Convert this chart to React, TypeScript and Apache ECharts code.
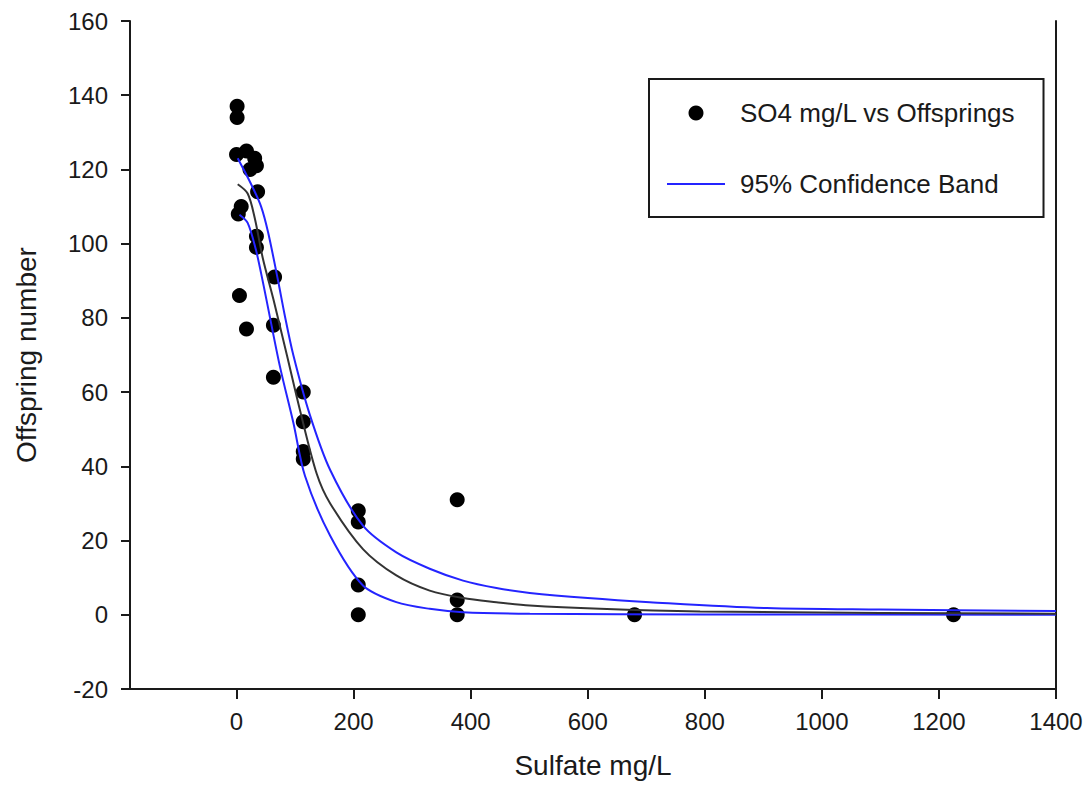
import React, { useEffect, useRef } from "react";
import * as echarts from "echarts";

const FONT = '"Liberation Sans", Arial, sans-serif';

// Observed data: sulfate concentration (mg/L) vs offspring number
const obsConc = [0, 1, 1, 3, 5, 8, 17, 17, 23, 31, 34, 36, 34, 34, 65, 63, 63, 114, 114, 114, 114, 208, 208, 208, 208, 377, 377, 377, 680, 1225];
const obsOffspring = [124, 137, 134, 108, 86, 110, 125, 77, 120, 123, 121, 114, 102, 99, 91, 78, 64, 60, 52, 44, 42, 28, 25, 8, 0, 31, 4, 0, 0, 0];

// Fitted regression curve
const fitConc = [2, 19, 31, 45, 63, 86, 108, 137, 160, 216, 273, 330, 387, 444, 501, 621, 792, 1100, 1400];
const fitOffspring = [116, 113.5, 107, 96, 85, 70, 55.4, 38, 30, 17.7, 10.6, 6.5, 4.5, 3.4, 2.5, 1.6, 0.9, 0.5, 0.3];

// Upper 95% confidence band
const upperConc = [2, 25, 42, 54, 71, 82, 97, 125, 160, 216, 273, 330, 387, 444, 501, 600, 706, 906, 1100, 1400];
const upperOffspring = [123, 116, 110, 103, 90, 81, 70, 54, 39, 24, 16.8, 12.4, 9.2, 7.2, 5.9, 4.5, 3.4, 1.8, 1.4, 1.0];

// Lower 95% confidence band
const lowerConc = [5, 19, 33, 42, 51, 74, 97, 117, 160, 216, 273, 330, 387, 501, 800, 1400];
const lowerOffspring = [107.8, 105.6, 98.4, 92, 85, 67, 51.8, 37.4, 21.3, 7.9, 3.4, 1.6, 0.7, 0.3, 0.1, 0];

const xTicks = [0, 200, 400, 600, 800, 1000, 1200, 1400];

const zip = (xs: number[], ys: number[]) => xs.map((x, i) => [x, ys[i]]);

export default function App() {
  const ref = useRef<HTMLDivElement>(null);
  useEffect(() => {
    const chart = echarts.init(ref.current!, null, { renderer: "svg" });
    const axisColor = "#1a1a1a";
    const blue = "#2424ff";
    chart.setOption({
      animation: false,
      backgroundColor: "#ffffff",
      textStyle: { fontFamily: FONT },
      tooltip: { show: false },
      grid: { left: 130, right: 33, top: 21, bottom: 113 },
      xAxis: {
        type: "value",
        min: -182,
        max: 1400,
        name: "Sulfate mg/L",
        nameLocation: "middle",
        nameGap: 62,
        nameTextStyle: { fontSize: 28, color: axisColor, fontFamily: FONT },
        axisLine: { show: true, onZero: false, lineStyle: { color: axisColor, width: 2 } },
        axisTick: { show: true, length: 10, customValues: xTicks, lineStyle: { color: axisColor, width: 2 } },
        axisLabel: {
          customValues: xTicks,
          fontSize: 24,
          color: axisColor,
          margin: 20,
          fontFamily: FONT,
          formatter: (v: number) => String(v),
        },
        splitLine: { show: false },
      },
      yAxis: [
        {
          type: "value",
          min: -20,
          max: 160,
          interval: 20,
          name: "Offspring number",
          nameLocation: "middle",
          nameGap: 90,
          nameTextStyle: { fontSize: 28, color: axisColor, fontFamily: FONT },
          axisLine: { show: true, onZero: false, lineStyle: { color: axisColor, width: 2 } },
          axisTick: { show: true, length: 9, lineStyle: { color: axisColor, width: 2 } },
          axisLabel: { fontSize: 24, color: axisColor, margin: 22, fontFamily: FONT },
          splitLine: { show: false },
        },
        {
          type: "value",
          position: "right",
          min: -20,
          max: 160,
          interval: 20,
          axisLine: { show: true, onZero: false, lineStyle: { color: axisColor, width: 2 } },
          axisTick: { show: false },
          axisLabel: { show: false },
          splitLine: { show: false },
        },
      ],
      legend: {
        orient: "vertical",
        left: 649,
        top: 79,
        data: [
          { name: "SO4 mg/L vs Offsprings", icon: "circle" },
          { name: "95% Confidence Band", icon: "path://M0,0 L100,0 L100,3.5 L0,3.5 Z" },
        ],
        itemWidth: 58,
        itemHeight: 15,
        itemGap: 41,
        symbolKeepAspect: true,
        padding: [19, 28, 18, 18],
        borderColor: axisColor,
        borderWidth: 2,
        selectedMode: false,
        textStyle: { fontSize: 26, color: axisColor, lineHeight: 30, padding: [0, 0, 0, 10], fontFamily: FONT },
      },
      series: [
        {
          type: "scatter",
          name: "SO4 mg/L vs Offsprings",
          data: zip(obsConc, obsOffspring),
          symbol: "circle",
          symbolSize: 15,
          itemStyle: { color: "#000", opacity: 1 },
          z: 2,
        },
        {
          type: "line",
          name: "95% Confidence Band",
          data: zip(upperConc, upperOffspring),
          symbol: "none",
          showSymbol: false,
          smooth: 0.3,
          color: blue,
          lineStyle: { color: blue, width: 2 },
          z: 3,
        },
        {
          type: "line",
          name: "95% Confidence Band",
          data: zip(lowerConc, lowerOffspring),
          symbol: "none",
          showSymbol: false,
          smooth: 0.3,
          color: blue,
          lineStyle: { color: blue, width: 2 },
          z: 3,
        },
        {
          type: "line",
          name: "Regression",
          data: zip(fitConc, fitOffspring),
          symbol: "none",
          showSymbol: false,
          smooth: 0.3,
          color: "#333",
          lineStyle: { color: "#333", width: 2 },
          z: 3,
        },
      ],
    });
    return () => chart.dispose();
  }, []);
  return (
    <div
      ref={ref}
      style={{ position: "absolute", left: 0, top: 0, width: 1089, height: 802, background: "#fff" }}
    />
  );
}
